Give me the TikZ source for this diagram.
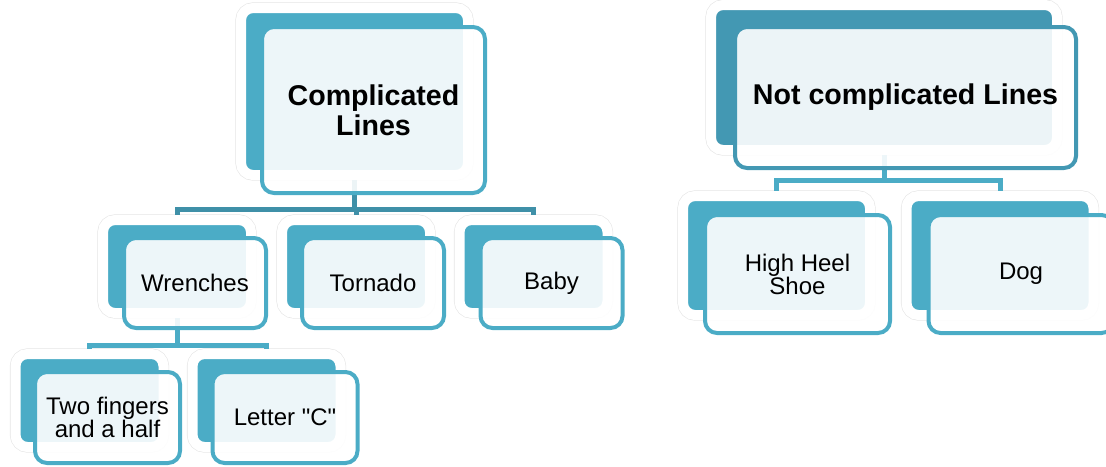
\documentclass[tikz,border=0pt]{standalone}
\usepackage{fontspec}
\setmainfont{Liberation Sans}
\newfontfamily\plainfont{Liberation Sans}
\usetikzlibrary{positioning}
\definecolor{teal1}{HTML}{4BACC6}
\definecolor{teal2}{HTML}{4398B3}
\definecolor{teal3}{HTML}{3F90A8}

\begin{document}
\begin{tikzpicture}[x=0.5pt,y=-0.5pt]
   \tikzset{back node/.style={rectangle, draw=white, fill=teal1, line width=5pt,
   		rounded corners=6pt, preaction={draw=black!10, line width=5.6pt}}, }
   \tikzset{front node/.style={rectangle, draw=teal1, fill=white, fill opacity=0.9,
   		text opacity=1, line width=2pt, rounded corners=6pt, inner sep=0pt,
   		align=center, font=\fontsize{12}{11.5}\selectfont}, }
   \tikzset{root node/.style={font=\bfseries\fontsize{14.3}{15}\selectfont}, }
   \tikzset{linea/.style={line width=2.5pt},}

\useasboundingbox (0,0) rectangle (1106,466);
% back boxes
\node[back node, minimum width=113.5pt, minimum height=83.5pt] (b1) at (354.5,91.5) {};
\node[back node, fill=teal2, minimum width=173pt, minimum height=72.5pt] (b2) at (884,77.5) {};
\node[back node, minimum width=74pt, minimum height=46.5pt] (b3) at (177,266.5) {};
\node[back node, minimum width=74pt, minimum height=46.5pt] (b4) at (356,266.5) {};
\node[back node, minimum width=74pt, minimum height=46.5pt] (b5) at (533.5,266.5) {};
\node[back node, minimum width=74pt, minimum height=46.5pt] (b6) at (89.5,400.5) {};
\node[back node, minimum width=74pt, minimum height=46.5pt] (b7) at (266.5,400.5) {};
\node[back node, minimum width=93.5pt, minimum height=59.5pt] (b8) at (776.5,255.5) {};
\node[back node, minimum width=93.5pt, minimum height=59.5pt] (b9) at (1000,255.5) {};
% lines
\foreach \x/\y/\h/\c in {1/3/29/teal3,1/4/29/teal3,1/5/29/teal3,3/6/27/teal1,3/7/27/teal1,2/8/25/teal1,2/9/25/teal1}
\draw[linea, draw=\c] (b\x.south) -- ++(0,\h) -| (b\y.north);
% front boxes
\node[front node, root node, minimum width=111.5pt, minimum height=83pt] (1) at (373.5,110) {Complicated\\Lines};
\node[front node, root node, draw=teal2, minimum width=170.5pt, minimum height=70.5pt] (2) at (905.5,97.5) {Not complicated Lines};
\node[front node, minimum width=71pt, minimum height=45pt] (3) at (195,283) {Wrenches};
\node[front node, minimum width=71pt, minimum height=45pt] (4) at (373,283) {Tornado};
\node[front node, minimum width=71pt, minimum height=45pt] (5) at (551.5,283) {Baby};
\node[front node, minimum width=72.5pt, minimum height=45.5pt] (6) at (107.5,417.5) {Two fingers\\and a half};
\node[front node, minimum width=72.5pt, minimum height=45.5pt] (7) at (285,417.5) {\plainfont Letter "C"};
\node[front node, minimum width=92.5pt, minimum height=59pt] (8) at (797.5,274) {High Heel\\Shoe};
\node[front node, minimum width=92.5pt, minimum height=59pt] (9) at (1021,274) {Dog};
\end{tikzpicture}
\end{document}
